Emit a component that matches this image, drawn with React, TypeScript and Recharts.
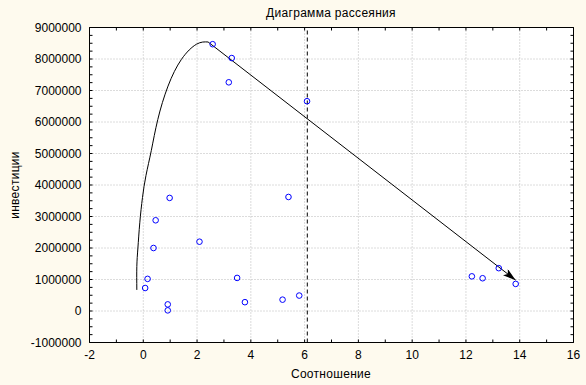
import { ScatterChart, Scatter, XAxis, YAxis, CartesianGrid, ReferenceLine } from 'recharts';

// axis ticks
const xTicks = [-2, 0, 2, 4, 6, 8, 10, 12, 14, 16];
const yTicks = [-1000000, 0, 1000000, 2000000, 3000000, 4000000, 5000000, 6000000, 7000000, 8000000, 9000000];
const xMinorTicks = Array.from({ length: 19 }, (_, i) => -2 + i);
const yMinorTicks = Array.from({ length: 41 }, (_, i) => -1000000 + i * 250000);

// observations: ratio (x) vs investments (y)
const ratio = [2.58, 3.29, 3.18, 6.09, 0.98, 5.4, 0.46, 2.09, 0.38, 0.16, 3.49, 0.07, 5.8, 5.18, 3.78, 0.91, 0.91, 12.22, 12.62, 13.22, 13.85];
const invest = [8470000, 8030000, 7260000, 6660000, 3590000, 3620000, 2880000, 2200000, 2000000, 1020000, 1050000, 730000, 490000, 360000, 280000, 210000, 20000, 1100000, 1040000, 1360000, 860000];

// hand-drawn curve and arrow
const curveX = [-0.24, -0.24, -0.2, -0.13, -0.03, 0.1, 0.3, 0.54, 0.92, 1.42, 1.98, 2.41];
const curveY = [670000, 1410000, 2000000, 2800000, 3600000, 4300000, 5100000, 6080000, 7140000, 7990000, 8470000, 8540000];
const arrowX = [2.41, 13.85];
const arrowY = [8540000, 980000];
const splitX = 6.1;

const points = ratio.map((x, i) => ({ x, y: invest[i] }));
const curve = curveX.map((x, i) => ({ x, y: curveY[i] }));
const arrow = arrowX.map((x, i) => ({ x, y: arrowY[i] }));

const font = { fontFamily: '"Liberation Sans", Arial, sans-serif', fontSize: 12 };

const LeftTick = ({ x, y, payload }: any) => (
  <g>
    <line x1={x} y1={y} x2={x + 3} y2={y} stroke="#000" />
    {yTicks.includes(payload.value) && (
      <text x={x - 8} y={y} dy={4} textAnchor="end" fill="#000" {...font}>
        {payload.value}
      </text>
    )}
  </g>
);

const RightTick = ({ x, y }: any) => <line x1={x} y1={y} x2={x - 3} y2={y} stroke="#000" />;

const BottomTick = ({ x, y, payload }: any) => (
  <g>
    <line x1={x} y1={y} x2={x} y2={y - 3} stroke="#000" />
    {xTicks.includes(payload.value) && (
      <text x={x} y={y} dy={16} textAnchor="middle" fill="#000" {...font}>
        {payload.value}
      </text>
    )}
  </g>
);

const TopTick = ({ x, y }: any) => <line x1={x} y1={y} x2={x} y2={y + 3} stroke="#000" />;

const NoDot = () => <g />;
const Dot = ({ cx, cy }: any) => <circle cx={cx} cy={cy} r={2.8} fill="none" stroke="#0000ff" />;

const axisCommon = {
  type: 'number' as const,
  interval: 0 as const,
  tickSize: 0,
  tickMargin: 0,
  tickLine: false,
  axisLine: { stroke: '#000' },
  allowDataOverflow: true,
};

export default function App() {
  return (
    <div style={{ position: 'relative', width: 586, height: 385, background: '#FEFAEE', ...font }}>
      <style>{'body{margin:0}'}</style>
      <svg width={0} height={0} style={{ position: 'absolute' }}>
        <defs>
          <marker id="arrowHead" viewBox="0 0 13 8" refX="13" refY="4" markerWidth="13" markerHeight="8" markerUnits="userSpaceOnUse" orient="auto">
            <path d="M0,0 L13,4 L0,8 L3,4 z" fill="#000" />
          </marker>
        </defs>
      </svg>
      <div style={{ position: 'absolute', left: 0, width: 586, top: 6, textAlign: 'center', paddingLeft: 76, boxSizing: 'border-box', letterSpacing: 0.3 }}>
        Диаграмма рассеяния
      </div>
      <div style={{ position: 'absolute', left: 0, width: 586, top: 367, textAlign: 'center', paddingLeft: 76, boxSizing: 'border-box', letterSpacing: 0.3 }}>
        Соотношение
      </div>
      <div style={{ position: 'absolute', left: 15, top: 185, transform: 'translate(-50%, -50%) rotate(-90deg)', whiteSpace: 'nowrap', letterSpacing: 0.3 }}>
        инвестиции
      </div>
      <div style={{ position: 'absolute', left: 0, top: 0 }}>
        <ScatterChart width={586} height={385} margin={{ top: 26.5, right: 11.5, bottom: 41.5, left: 88.5 }}>
          <CartesianGrid
            fill="#fff"
            stroke="#b8b8b8"
            strokeDasharray="1 2"
            verticalValues={xTicks}
            horizontalValues={yTicks}
          />
          <XAxis {...axisCommon} dataKey="x" domain={[-2, 16]} ticks={xMinorTicks} height={1} tick={BottomTick} />
          <XAxis {...axisCommon} xAxisId="top" orientation="top" dataKey="x" domain={[-2, 16]} ticks={xMinorTicks} height={1} tick={TopTick} />
          <YAxis {...axisCommon} dataKey="y" domain={[-1000000, 9000000]} ticks={yMinorTicks} width={1} tick={LeftTick} />
          <YAxis {...axisCommon} yAxisId="right" orientation="right" dataKey="y" domain={[-1000000, 9000000]} ticks={yMinorTicks} width={1} tick={RightTick} />
          <ReferenceLine x={splitX} stroke="#000" strokeDasharray="4 3" />
          <Scatter data={curve} line={{ stroke: '#000', strokeWidth: 1 }} lineType="joint" lineJointType="natural" shape={NoDot} isAnimationActive={false} />
          <Scatter data={arrow} line={{ stroke: '#000', strokeWidth: 1, markerEnd: 'url(#arrowHead)' }} lineType="joint" shape={NoDot} isAnimationActive={false} />
          <Scatter data={points} shape={Dot} isAnimationActive={false} />
        </ScatterChart>
      </div>
    </div>
  );
}
